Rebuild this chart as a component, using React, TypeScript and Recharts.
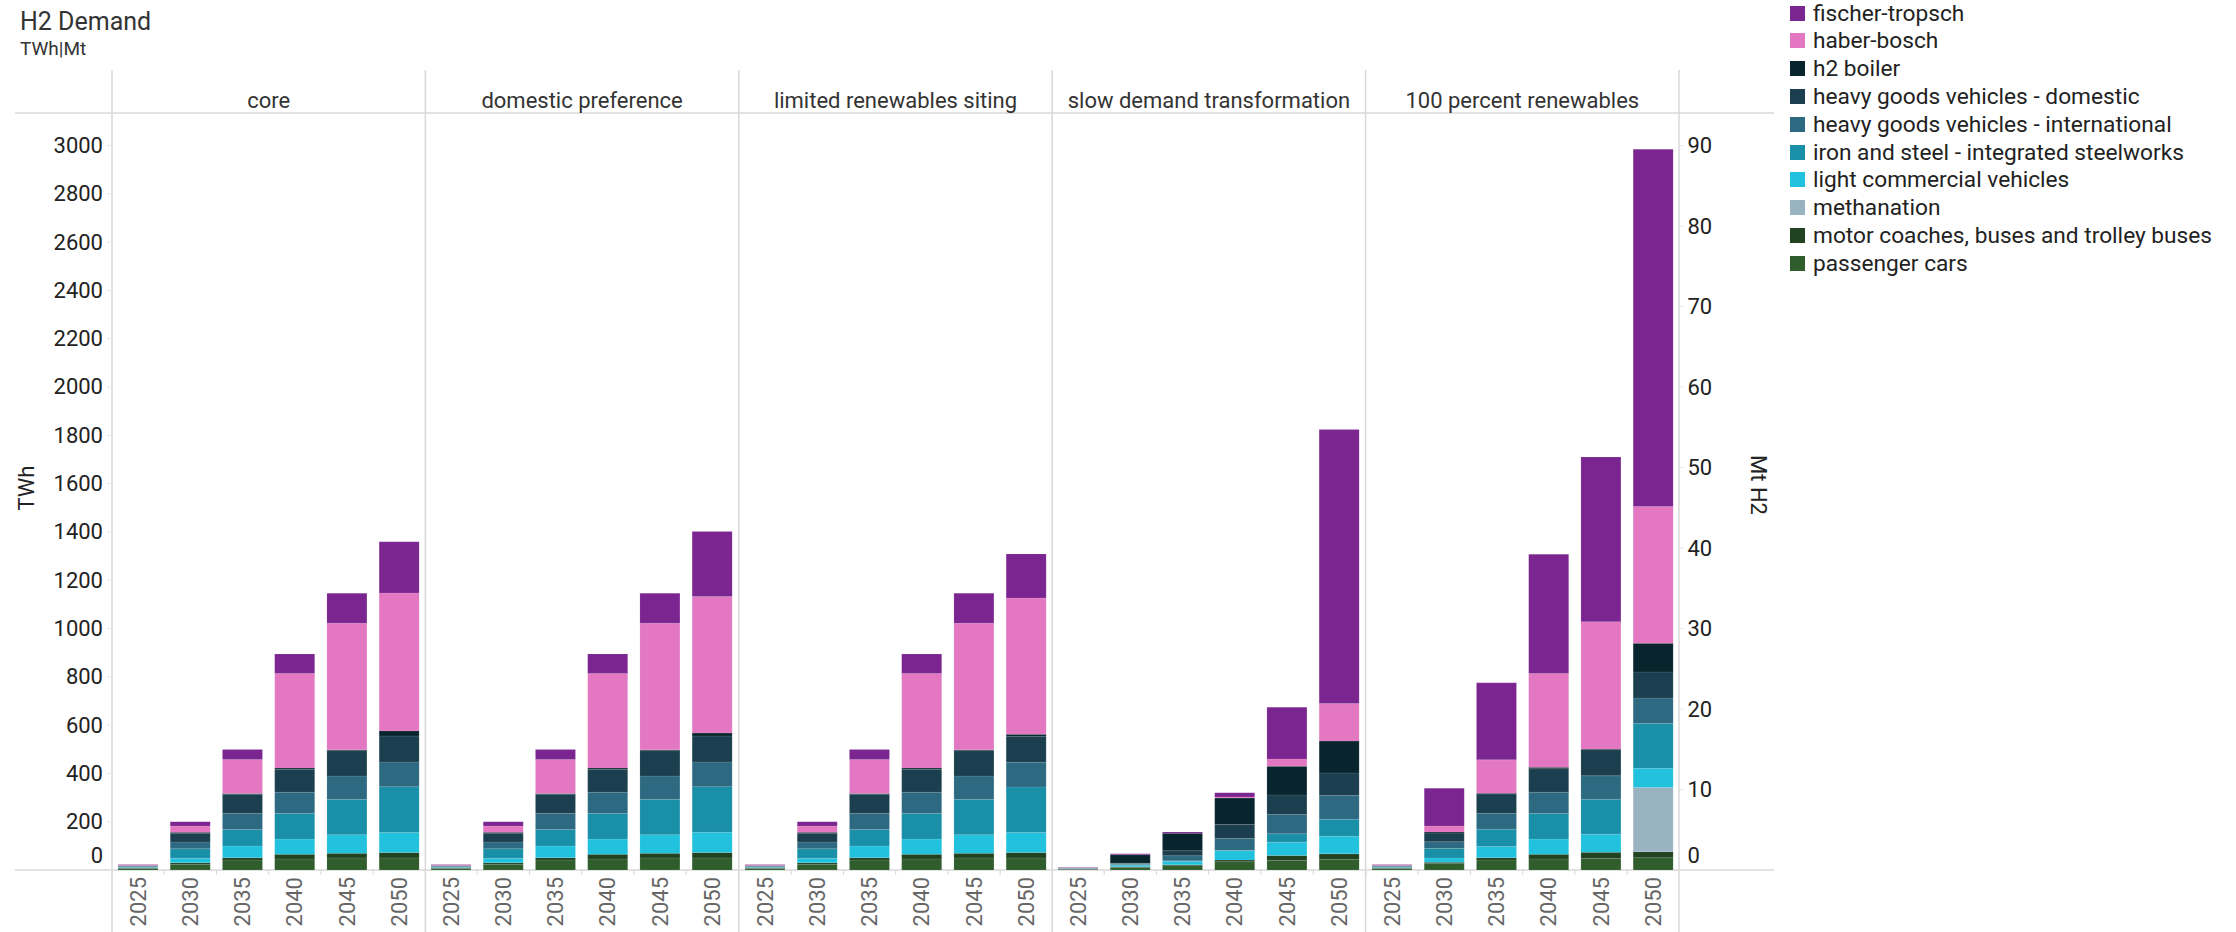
import React from "react";
import { BarChart, Bar, XAxis, YAxis } from "recharts";

const YEARS = ["2025", "2030", "2035", "2040", "2045", "2050"];

const SCENARIOS = [
  "core",
  "domestic preference",
  "limited renewables siting",
  "slow demand transformation",
  "100 percent renewables",
];

// stacking order, bottom to top
const SERIES = [
  "passenger cars",
  "motor coaches, buses and trolley buses",
  "methanation",
  "light commercial vehicles",
  "iron and steel - integrated steelworks",
  "heavy goods vehicles - international",
  "heavy goods vehicles - domestic",
  "h2 boiler",
  "haber-bosch",
  "fischer-tropsch",
];

// H2 demand in TWh, one value per year (2025 ... 2050)
const core = {
  "passenger cars": [6, 23, 41, 46, 50, 50],
  "motor coaches, buses and trolley buses": [2, 7, 10, 19, 19, 22],
  methanation: [0, 0, 0, 0, 0, 0],
  "light commercial vehicles": [2, 19, 48, 63, 77, 83],
  "iron and steel - integrated steelworks": [3, 39, 69, 106, 146, 190],
  "heavy goods vehicles - international": [3, 28, 66, 88, 97, 102],
  "heavy goods vehicles - domestic": [3, 36, 80, 94, 105, 108],
  "h2 boiler": [0, 4, 3, 6, 4, 21],
  "haber-bosch": [4, 26, 141, 392, 524, 571],
  "fischer-tropsch": [1, 18, 41, 80, 124, 212],
};

const domesticPreference = {
  "passenger cars": [6, 23, 41, 46, 50, 50],
  "motor coaches, buses and trolley buses": [2, 7, 10, 19, 19, 22],
  methanation: [0, 0, 0, 0, 0, 0],
  "light commercial vehicles": [2, 19, 48, 63, 77, 84],
  "iron and steel - integrated steelworks": [3, 39, 69, 106, 146, 189],
  "heavy goods vehicles - international": [3, 28, 66, 88, 97, 102],
  "heavy goods vehicles - domestic": [3, 36, 80, 94, 105, 108],
  "h2 boiler": [0, 4, 3, 6, 4, 12],
  "haber-bosch": [4, 26, 141, 392, 524, 565],
  "fischer-tropsch": [1, 18, 41, 80, 124, 270],
};

const limitedRenewablesSiting = {
  "passenger cars": [6, 23, 41, 46, 50, 50],
  "motor coaches, buses and trolley buses": [2, 7, 10, 19, 19, 22],
  methanation: [0, 0, 0, 0, 0, 0],
  "light commercial vehicles": [2, 19, 48, 63, 77, 83],
  "iron and steel - integrated steelworks": [3, 39, 69, 106, 146, 189],
  "heavy goods vehicles - international": [3, 28, 66, 88, 97, 102],
  "heavy goods vehicles - domestic": [3, 36, 80, 94, 105, 108],
  "h2 boiler": [0, 4, 3, 6, 4, 8],
  "haber-bosch": [4, 26, 141, 392, 524, 564],
  "fischer-tropsch": [1, 18, 41, 80, 124, 183],
};

const slowDemandTransformation = {
  "passenger cars": [3, 10, 18, 34, 39, 44],
  "motor coaches, buses and trolley buses": [1, 3, 4, 7, 21, 23],
  methanation: [0, 0, 0, 0, 0, 0],
  "light commercial vehicles": [1, 6, 14, 39, 55, 73],
  "iron and steel - integrated steelworks": [1, 4, 2, 2, 35, 70],
  "heavy goods vehicles - international": [1, 4, 21, 48, 80, 98],
  "heavy goods vehicles - domestic": [1, 1, 21, 58, 81, 94],
  "h2 boiler": [0, 35, 72, 110, 119, 132],
  "haber-bosch": [0, 0, 0, 4, 30, 155],
  "fischer-tropsch": [2, 4, 5, 18, 214, 1135],
};

const hundredPercentRenewables = {
  "passenger cars": [6, 28, 41, 46, 48, 51],
  "motor coaches, buses and trolley buses": [2, 4, 10, 19, 25, 25],
  methanation: [0, 0, 0, 0, 0, 266],
  "light commercial vehicles": [2, 18, 46, 63, 75, 79],
  "iron and steel - integrated steelworks": [3, 39, 72, 106, 145, 186],
  "heavy goods vehicles - international": [3, 28, 66, 88, 97, 105],
  "heavy goods vehicles - domestic": [3, 36, 80, 97, 108, 108],
  "h2 boiler": [0, 4, 3, 6, 3, 119],
  "haber-bosch": [4, 25, 138, 389, 527, 566],
  "fischer-tropsch": [1, 156, 319, 493, 682, 1480],
};

const SCENARIO_VALUES = [
  core,
  domesticPreference,
  limitedRenewablesSiting,
  slowDemandTransformation,
  hundredPercentRenewables,
];

const TWH_TICKS = [0, 200, 400, 600, 800, 1000, 1200, 1400, 1600, 1800, 2000, 2200, 2400, 2600, 2800, 3000];
const MT_TICKS = [0, 10, 20, 30, 40, 50, 60, 70, 80, 90];
const TWH_MAX = 3000;
const TWH_PER_MT = 33.33;

const COLORS = {
  "passenger cars": "#2f5e2c",
  "motor coaches, buses and trolley buses": "#224321",
  methanation: "#99b4c0",
  "light commercial vehicles": "#22c1de",
  "iron and steel - integrated steelworks": "#1a8fa8",
  "heavy goods vehicles - international": "#2d6a82",
  "heavy goods vehicles - domestic": "#1c3f4f",
  "h2 boiler": "#08252d",
  "haber-bosch": "#e377c2",
  "fischer-tropsch": "#7b2590",
};

// layout
const W = 2236;
const H = 932;
const PANEL_LEFT = 112;
const PANEL_W = 313.4;
const CHART_TOP = 113;
const CHART_H = H - CHART_TOP;
const PLOT_TOP = 145.5;
const PLOT_BOTTOM = 870;
const LEFT_AXIS_W = 112;
const RIGHT_AXIS_W = 100;
const GRID = "#d8d8d8";

const toRows = (values) =>
  YEARS.map((year, i) => {
    const row = { year };
    SERIES.forEach((s) => {
      row[s] = values[s][i];
    });
    return row;
  });

const YearTick = ({ x, y, payload }) => {
  const half = payload.offset || PANEL_W / 12;
  return (
    <g>
      <line x1={x - half} x2={x - half} y1={y} y2={y + 5} stroke={GRID} />
      <text
        x={x}
        y={y + 7}
        transform={`rotate(-90, ${x}, ${y + 7})`}
        textAnchor="end"
        dominantBaseline="central"
        fontSize={22}
        fill="#666"
      >
        {payload.value}
      </text>
    </g>
  );
};

// the zero label sits a bit above the baseline
const ValueTick = ({ x, y, payload, anchor }) => (
  <text
    x={x}
    y={payload.value === 0 ? y - 14 : y}
    textAnchor={anchor}
    dominantBaseline="central"
    fontSize={22}
    fill="#222"
  >
    {payload.value}
  </text>
);

const Panel = ({ index }) => {
  const first = index === 0;
  const last = index === SCENARIOS.length - 1;
  const left = first ? 0 : PANEL_LEFT + index * PANEL_W;
  const width =
    PANEL_W + (first ? LEFT_AXIS_W : 0) + (last ? RIGHT_AXIS_W : 0);
  const data = toRows(SCENARIO_VALUES[index]);

  return (
    <div style={{ position: "absolute", left, top: CHART_TOP }}>
      <BarChart
        width={width}
        height={CHART_H}
        data={data}
        barSize={40}
        margin={{
          top: PLOT_TOP - CHART_TOP,
          right: 0,
          left: 0,
          bottom: 0,
        }}
      >
        <XAxis
          dataKey="year"
          interval={0}
          height={CHART_H - (PLOT_BOTTOM - CHART_TOP)}
          tickSize={0}
          tickMargin={0}
          axisLine={false}
          tickLine={false}
          tick={<YearTick />}
        />
        <YAxis
          hide={!first}
          type="number"
          domain={[0, TWH_MAX]}
          allowDataOverflow
          ticks={TWH_TICKS}
          interval={0}
          width={LEFT_AXIS_W}
          axisLine={false}
          tickSize={5}
          tickMargin={4}
          tickLine={{ stroke: "#e6e6e6" }}
          tick={<ValueTick anchor="end" />}
        />
        {last && (
          <YAxis
            yAxisId="mt"
            orientation="right"
            type="number"
            domain={[0, TWH_MAX / TWH_PER_MT]}
            allowDataOverflow
            ticks={MT_TICKS}
            interval={0}
            width={RIGHT_AXIS_W}
            axisLine={false}
            tickSize={4}
            tickMargin={4}
            tickLine={{ stroke: "#e6e6e6" }}
            tick={<ValueTick anchor="start" />}
          />
        )}
        {SERIES.map((s) => (
          <Bar
            key={s}
            dataKey={s}
            stackId="h2"
            fill={COLORS[s]}
            stroke="rgba(255,255,255,0.2)"
            strokeWidth={0.5}
            isAnimationActive={false}
          />
        ))}
      </BarChart>
    </div>
  );
};

const Frame = () => {
  const edges = SCENARIOS.map((_, i) => PANEL_LEFT + i * PANEL_W).concat(
    PANEL_LEFT + SCENARIOS.length * PANEL_W
  );
  return (
    <svg
      width={W}
      height={H}
      style={{ position: "absolute", left: 0, top: 0 }}
    >
      <text x={20} y={21} fontSize={25} fill="#333" dominantBaseline="central">
        H2 Demand
      </text>
      <text x={20} y={48} fontSize={19} fill="#333" dominantBaseline="central">
        TWh|Mt
      </text>
      <line x1={15} x2={1774} y1={113} y2={113} stroke={GRID} strokeWidth={1.5} />
      <line x1={15} x2={1774} y1={PLOT_BOTTOM} y2={PLOT_BOTTOM} stroke={GRID} strokeWidth={1.5} />
      {edges.map((x) => (
        <line key={x} x1={x} x2={x} y1={70} y2={H} stroke={GRID} strokeWidth={1.5} />
      ))}
      {SCENARIOS.map((name, i) => (
        <text
          key={name}
          x={PANEL_LEFT + (i + 0.5) * PANEL_W}
          y={100}
          fontSize={22}
          fill="#333"
          textAnchor="middle"
          dominantBaseline="central"
        >
          {name}
        </text>
      ))}
      <text
        x={26}
        y={488}
        fontSize={22}
        fill="#222"
        textAnchor="middle"
        dominantBaseline="central"
        transform="rotate(-90, 26, 488)"
      >
        TWh
      </text>
      <text
        x={1758}
        y={485}
        fontSize={22}
        fill="#222"
        textAnchor="middle"
        dominantBaseline="central"
        transform="rotate(90, 1758, 485)"
      >
        Mt H2
      </text>
    </svg>
  );
};

const SeriesLegend = () => (
  <div style={{ position: "absolute", left: 1790, top: 0 }}>
    {[...SERIES].reverse().map((s, i) => (
      <div
        key={s}
        style={{
          position: "absolute",
          top: 13 + i * 27.8 - 14,
          left: 0,
          height: 28,
          display: "flex",
          alignItems: "center",
          whiteSpace: "nowrap",
          fontSize: 22.7,
          color: "#222",
        }}
      >
        <span
          style={{
            width: 15,
            height: 15,
            background: COLORS[s],
            marginRight: 8,
            display: "inline-block",
          }}
        />
        {s}
      </div>
    ))}
  </div>
);

export default function App() {
  return (
    <div
      style={{
        position: "absolute",
        left: 0,
        top: 0,
        width: W,
        height: H,
        overflow: "hidden",
        background: "#fff",
        fontFamily: "Roboto, sans-serif",
      }}
    >
      <Frame />
      {SCENARIOS.map((name, i) => (
        <Panel key={name} index={i} />
      ))}
      <SeriesLegend />
    </div>
  );
}
